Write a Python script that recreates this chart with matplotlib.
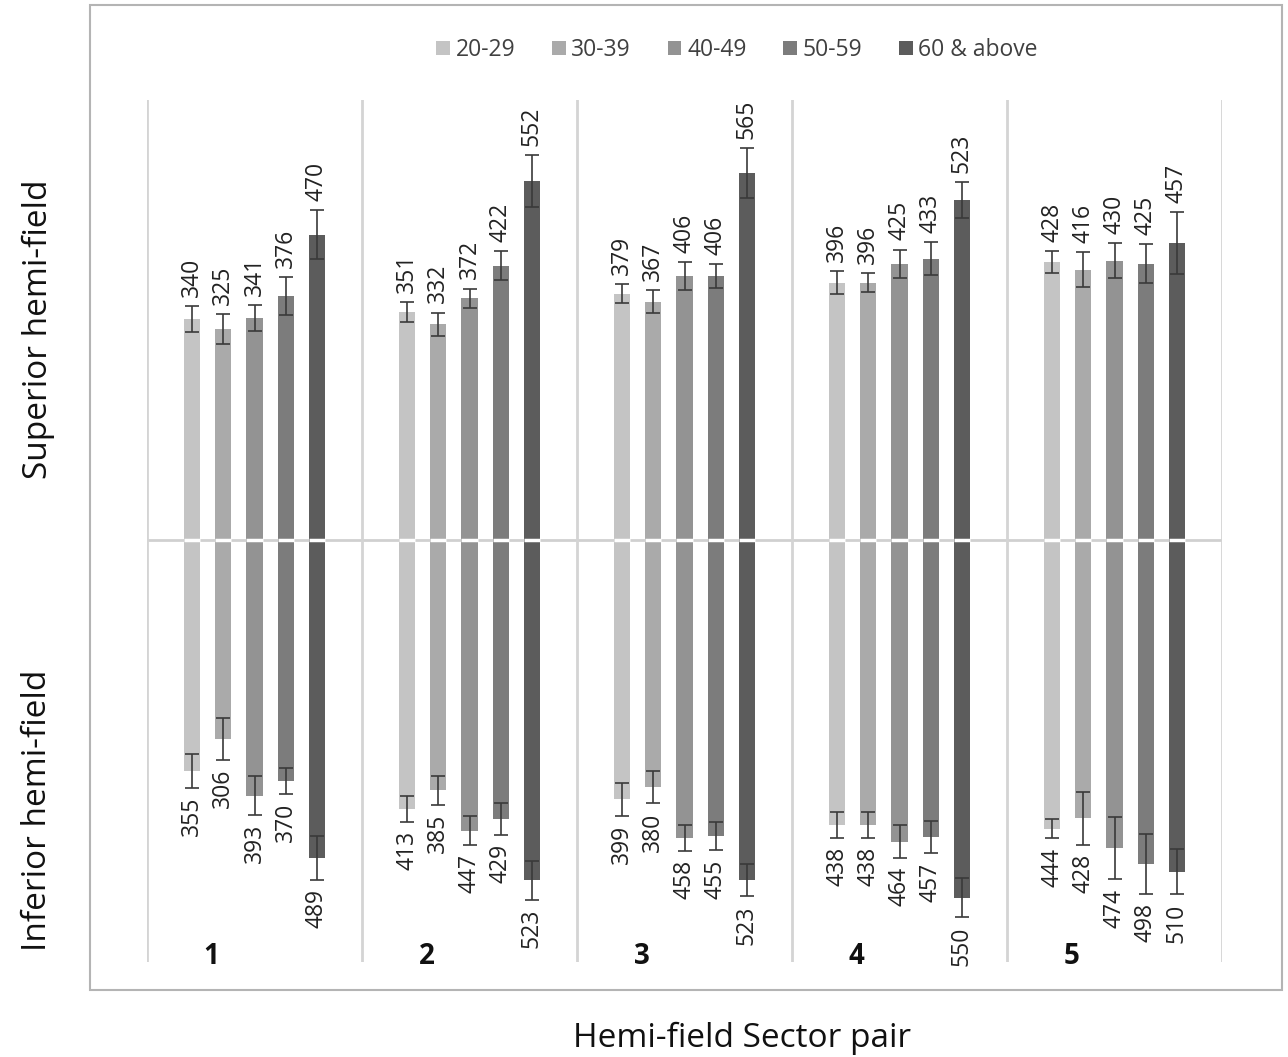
import numpy as np
import matplotlib
matplotlib.use("Agg")
import matplotlib.pyplot as plt
from matplotlib.patches import Rectangle

plt.rcParams['font.family'] = ['Open Sans', 'DejaVu Sans']

# data
sectors = ["1", "2", "3", "4", "5"]
ages = ["20-29", "30-39", "40-49", "50-59", "60 & above"]
colors = ["#c4c4c4", "#aaaaaa", "#939393", "#7c7c7c", "#5c5c5c"]

superior = [
    [340, 325, 341, 376, 470],
    [351, 332, 372, 422, 552],
    [379, 367, 406, 406, 565],
    [396, 396, 425, 433, 523],
    [428, 416, 430, 425, 457],
]
superior_err = [
    [20, 23, 20, 29, 38],
    [15, 18, 15, 22, 40],
    [15, 18, 22, 18, 38],
    [18, 15, 22, 25, 28],
    [17, 27, 27, 30, 48],
]
inferior = [
    [355, 306, 393, 370, 489],
    [413, 385, 447, 429, 523],
    [399, 380, 458, 455, 523],
    [438, 438, 464, 457, 550],
    [444, 428, 474, 498, 510],
]
inferior_err = [
    [26, 32, 30, 20, 34],
    [20, 22, 22, 25, 30],
    [25, 25, 20, 22, 25],
    [20, 20, 25, 25, 30],
    [15, 41, 48, 46, 35],
]

fig = plt.figure(figsize=(12.88, 10.57), dpi=100)
ax = fig.add_axes([147/1288, 1-962/1057, 1075/1288, 862/1057])

step = 0.145
width = 0.075
x = np.arange(len(sectors))

# panel lines + centre line
ax.axhline(0, color="#d0d0d0", lw=2, zorder=1)
for b in np.arange(-0.5, len(sectors)):
    ax.axvline(b, color="#d4d4d4", lw=2, zorder=1)

sup = np.array(superior)
inf = np.array(inferior)
sup_e = np.array(superior_err)
inf_e = np.array(inferior_err)

for i, age in enumerate(ages):
    xi = x + (i - 2) * step
    ax.bar(xi, sup[:, i], width, color=colors[i], label=age, zorder=2)
    ax.bar(xi, -inf[:, i], width, color=colors[i], zorder=2)
    ax.errorbar(xi, sup[:, i], yerr=sup_e[:, i], fmt="none", ecolor="#3a3a3a",
                elinewidth=1.2, capsize=5, capthick=1.2, zorder=3)
    ax.errorbar(xi, -inf[:, i], yerr=inf_e[:, i], fmt="none", ecolor="#3a3a3a",
                elinewidth=1.2, capsize=5, capthick=1.2, zorder=3)
    ax.hlines(np.zeros(len(xi)), xi - width/2, xi + width/2, color="white",
              lw=2.5, zorder=4)
    for g in range(len(sectors)):
        ax.text(xi[g], sup[g, i] + sup_e[g, i] + 14, str(sup[g, i]), rotation=90,
                ha="center", va="bottom", fontsize=16.5, color="#222222")
        ax.text(xi[g], -inf[g, i] - inf_e[g, i] - 14, str(inf[g, i]), rotation=90,
                ha="center", va="top", fontsize=16.5, color="#222222")

for g, s in enumerate(sectors):
    ax.text(g - 0.2, -640, s, ha="center", va="center", fontsize=20,
            fontweight="bold", color="#111111")

ax.set_xlim(-0.5, len(sectors) - 0.5)
ax.set_ylim(-649, 677)
ax.axis("off")

fig.legend(loc="center", bbox_to_anchor=(737/1288, 1-50/1057), ncol=5,
           frameon=False, fontsize=16.5, handlelength=0.6, handleheight=0.6,
           handletextpad=0.25, columnspacing=1.6, labelcolor="#404040")

fig.patches.append(Rectangle((90/1288, 1-990/1057), 1192/1288, 985/1057,
                             transform=fig.transFigure, fill=False,
                             edgecolor="#b4b4b4", lw=1.5))

fig.text(38/1288, 1-329/1057, "Superior hemi-field", rotation=90,
         ha="center", va="center", fontsize=24, color="#111111")
fig.text(38/1288, 1-810/1057, "Inferior hemi-field", rotation=90,
         ha="center", va="center", fontsize=24, color="#111111")
fig.text(742/1288, 1-1038/1057, "Hemi-field Sector pair", ha="center",
         va="center", fontsize=24, color="#111111")

fig.savefig("out.png", dpi=100)
